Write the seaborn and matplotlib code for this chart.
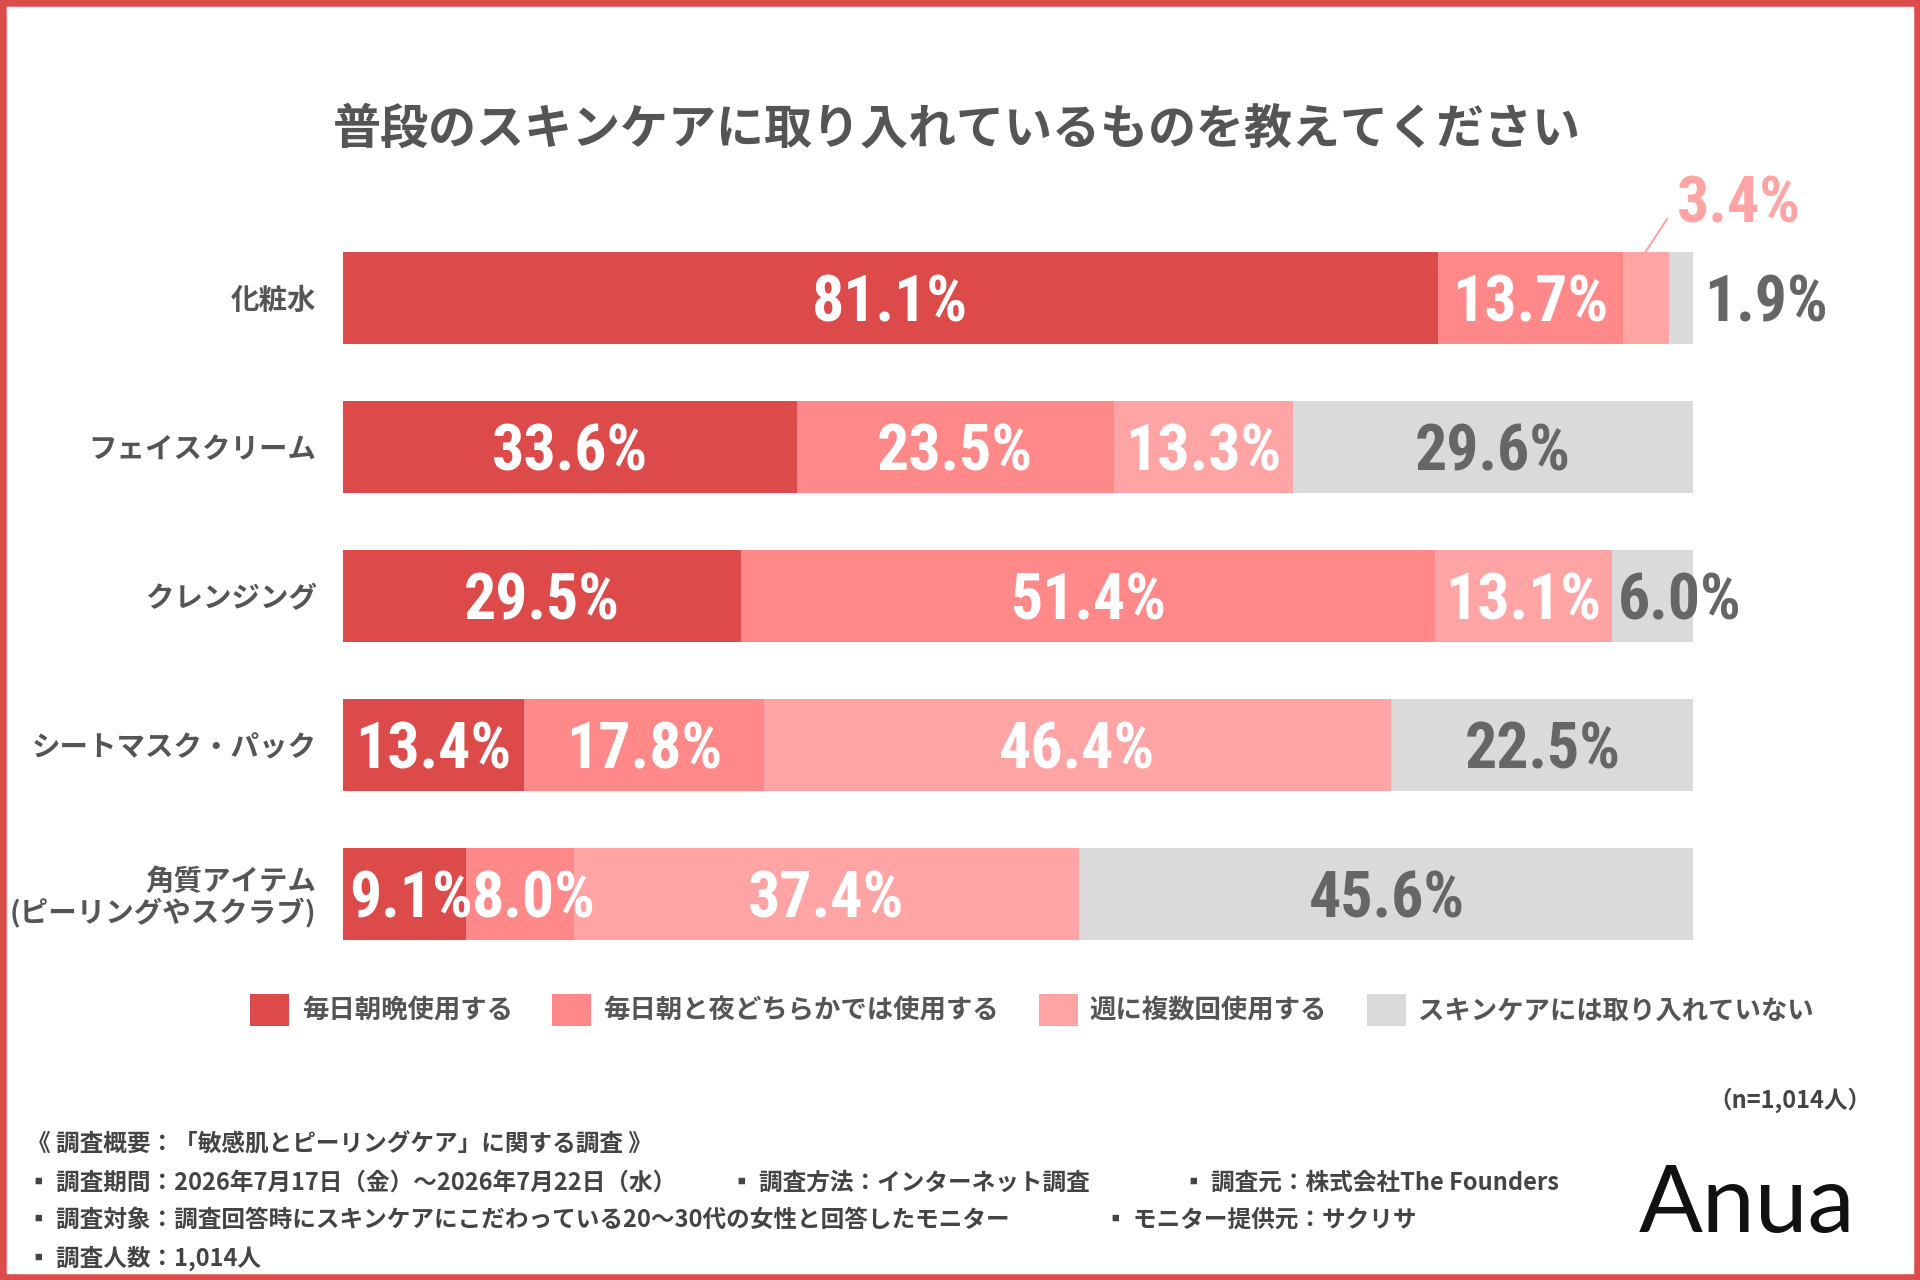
import matplotlib
matplotlib.use('Agg')
import matplotlib.pyplot as plt
import matplotlib.transforms as mtransforms
from matplotlib import font_manager as fm
from matplotlib.patches import Rectangle, Patch
import seaborn as sns
import pandas as pd

# ---------------- data ----------------
categories = ['化粧水', 'フェイスクリーム', 'クレンジング', 'シートマスク・パック',
              '角質アイテム\n(ピーリングやスクラブ)']
series_names = ['毎日朝晩使用する', '毎日朝と夜どちらかでは使用する',
                '週に複数回使用する', 'スキンケアには取り入れていない']
daily_both = [81.1, 33.6, 29.5, 13.4, 9.1]
daily_one = [13.7, 23.5, 51.4, 17.8, 8.0]
weekly = [3.4, 13.3, 13.1, 46.4, 37.4]
not_used = [1.9, 29.6, 6.0, 22.5, 45.6]

title_text = '普段のスキンケアに取り入れているものを教えてください'
sample_text = '（n=1,014人）'
survey_title = '《 調査概要：「敏感肌とピーリングケア」に関する調査 》'
survey_period = '▪ 調査期間：2026年7月17日（金）〜2026年7月22日（水）'
survey_method = '▪ 調査方法：インターネット調査'
survey_org = '▪ 調査元：株式会社The Founders'
survey_target = '▪ 調査対象：調査回答時にスキンケアにこだわっている20〜30代の女性と回答したモニター'
survey_provider = '▪ モニター提供元：サクリサ'
survey_count = '▪ 調査人数：1,014人'
brand = 'Anua'

# ---------------- style ----------------
colors = ['#DC4A4A', '#FF8888', '#FFA4A4', '#DADADA']
label_colors = ['white', 'white', 'white', '#666666']
text_gray = '#555555'
frame_red = '#DD4B4B'

sns.set_theme(style='white')
plt.rcParams['font.family'] = ['Noto Sans CJK JP', 'DejaVu Sans']


def has_font(name):
    try:
        fm.findfont(fm.FontProperties(family=name), fallback_to_default=False)
        return True
    except Exception:
        return False


# prefer a narrow face for the numbers if one is installed
num_family = ['Noto Sans CJK JP', 'DejaVu Sans']
lab_size = 37
for cand in ['Roboto Condensed', 'Liberation Sans Narrow', 'Arial Narrow',
             'Open Sans Condensed', 'DejaVu Sans Condensed']:
    if has_font(cand):
        num_family = [cand, 'Noto Sans CJK JP']
        lab_size = 46
        break

W, H = 1920, 1280
fig = plt.figure(figsize=(W / 100, H / 100), dpi=100)
fig.patch.set_facecolor('white')


def fx(px):
    return px / W


def fy(py):
    return 1 - py / H


ax = fig.add_axes([fx(343), fy(968.5), fx(1693) - fx(343), fy(223.5) - fy(968.5)])

series = [daily_both, daily_one, weekly, not_used]
rows = []
for si, vals in enumerate(series):
    for ci, cat in enumerate(categories):
        rows.append({'item': cat, 'series': series_names[si], 'value': vals[ci]})
df = pd.DataFrame(rows)
df['cum'] = df.groupby('item', sort=False)['value'].cumsum()
df['start'] = df['cum'] - df['value']

# draw stacked bars: largest cumulative first, then overlay smaller ones
for si in reversed(range(len(series_names))):
    sub = df[df['series'] == series_names[si]]
    sns.barplot(data=sub, x='cum', y='item', order=categories, orient='h',
                color=colors[si], saturation=1, width=0.624, errorbar=None,
                linewidth=0, ax=ax)

ax.set_xlim(0, 100)
ax.set_ylim(len(categories) - 0.5, -0.5)
ax.set_xlabel('')
ax.set_ylabel('')
ax.set_xticks([])
for s in ax.spines.values():
    s.set_visible(False)
ax.tick_params(axis='y', length=0, pad=19, labelsize=20.5, labelcolor=text_gray)
for t in ax.get_yticklabels():
    t.set_fontweight('bold')
    t.set_linespacing(1.1)

# value labels
cap_half = 0.73 * lab_size / 2
base_tr = mtransforms.offset_copy(ax.transData, fig=fig, x=0, y=-cap_half, units='points')
for _, r in df.iterrows():
    si = series_names.index(r['series'])
    ci = categories.index(r['item'])
    txt = f"{r['value']:.1f}%"
    kw = dict(fontsize=lab_size, fontweight='bold', family=num_family,
              va='baseline', transform=base_tr, clip_on=False)
    if r['value'] < 5 and si == 2:
        # small segment: label above with leader line
        cx = r['start'] + r['value'] / 2
        ax.plot([cx, cx + 1.6], [ci - 0.312, ci - 0.533], color=colors[2],
                lw=1.5, clip_on=False)
        ax.text(103.4, ci - 0.665, txt, ha='center', color=colors[2], **kw)
    elif r['value'] < 5:
        ax.text(100.8, ci, txt, ha='left', color=label_colors[si], **kw)
    elif r['value'] < 10:
        ax.text(r['start'] + 0.45, ci, txt, ha='left', color=label_colors[si], **kw)
    else:
        ax.text(r['start'] + r['value'] / 2, ci, txt, ha='center',
                color=label_colors[si], **kw)

# title
fig.text(fx(957), fy(129), title_text, ha='center', va='center', fontsize=34.6,
         fontweight='bold', color=text_gray)

# legend
handles = [Patch(facecolor=c, edgecolor='none') for c in colors]
leg = fig.legend(handles, series_names, loc='center', bbox_to_anchor=(fx(1032), fy(1010)),
                 ncol=4, frameon=False, prop={'size': 19, 'weight': 'bold'},
                 handlelength=1.48, handleheight=1.48, handletextpad=0.46,
                 columnspacing=1.5, labelcolor=text_gray)

# notes
note_kw = dict(fontsize=17, fontweight='bold', color='#444444', va='center',
               family=['Noto Sans CJK JP', 'DejaVu Sans'])
fig.text(fx(1872), fy(1100), sample_text, ha='right', **note_kw)
fig.text(fx(27), fy(1145), survey_title, ha='left', **note_kw)
fig.text(fx(27), fy(1183), survey_period, ha='left', **note_kw)
fig.text(fx(730), fy(1183), survey_method, ha='left', **note_kw)
fig.text(fx(1182), fy(1183), survey_org, ha='left', **note_kw)
fig.text(fx(27), fy(1220), survey_target, ha='left', **note_kw)
fig.text(fx(1104), fy(1220), survey_provider, ha='left', **note_kw)
fig.text(fx(27), fy(1258), survey_count, ha='left', **note_kw)

# brand
fig.text(fx(1747), fy(1232), brand, ha='center', va='baseline', fontsize=68,
         family=['Lato', 'DejaVu Sans'], color='#111111')

# frame
fig.patches.append(Rectangle((0, 0), 1, 1, transform=fig.transFigure, fill=False,
                             edgecolor=frame_red, linewidth=9, zorder=10))

fig.savefig('out.png', dpi=100, facecolor='white')
